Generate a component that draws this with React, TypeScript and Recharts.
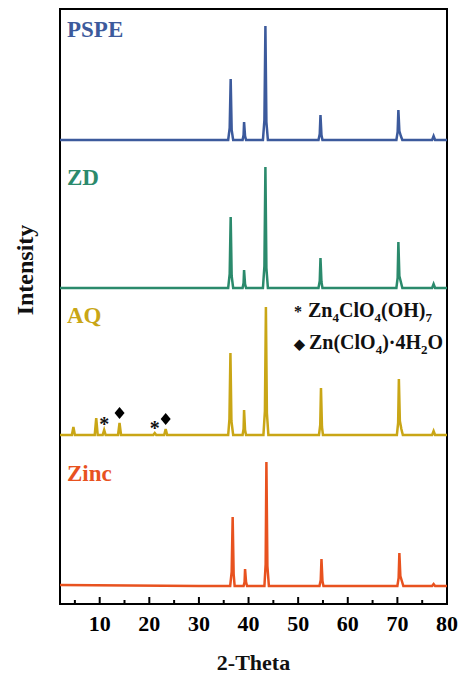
import React from 'react';
import { ComposedChart, Line, Scatter, XAxis, YAxis, ReferenceArea } from 'recharts';

// XRD patterns: [2-theta, intensity above own baseline]
const pspe: [number, number][] = [
  [2, 0], [35.9, 0], [36.2, 12], [36.4, 61], [36.6, 10], [36.9, 0],
  [38.8, 0], [39.0, 5], [39.1, 18], [39.3, 4], [39.5, 0],
  [42.9, 0], [43.2, 20], [43.4, 114], [43.6, 18], [43.9, 0],
  [54.1, 0], [54.35, 6], [54.5, 25], [54.7, 5], [54.9, 0],
  [69.8, 0], [70.05, 8], [70.2, 30], [70.4, 9], [70.7, 4], [71.0, 0],
  [77.0, 0], [77.3, 4], [77.6, 0], [80, 0],
];

const zd: [number, number][] = [
  [2, 0], [35.9, 0], [36.2, 14], [36.4, 71], [36.6, 12], [36.9, 0],
  [38.8, 0], [39.0, 5], [39.1, 18], [39.3, 4], [39.5, 0],
  [42.9, 0], [43.2, 22], [43.4, 121], [43.6, 20], [43.9, 0],
  [54.1, 0], [54.35, 7], [54.5, 30], [54.7, 6], [54.9, 0],
  [69.8, 0], [70.05, 10], [70.2, 46], [70.4, 12], [70.7, 6], [71.0, 0],
  [77.0, 0], [77.3, 4], [77.6, 0], [80, 0],
];

const aq: [number, number][] = [
  [2, 0], [4.4, 0], [4.7, 8], [5.0, 0],
  [9.0, 0], [9.3, 17], [9.6, 0], [10.6, 0], [10.9, 5], [11.2, 0],
  [13.7, 0], [14.0, 12], [14.3, 0], [20.8, 0], [21.1, 2], [21.4, 0],
  [23.0, 0], [23.3, 6], [23.6, 0],
  [35.9, 0], [36.15, 16], [36.35, 82], [36.55, 14], [36.9, 0],
  [38.8, 0], [39.0, 6], [39.1, 25], [39.3, 5], [39.5, 0],
  [43.0, 0], [43.3, 24], [43.5, 128], [43.7, 22], [44.0, 0],
  [54.2, 0], [54.45, 10], [54.6, 47], [54.8, 8], [55.0, 0],
  [69.9, 0], [70.15, 12], [70.3, 56], [70.5, 14], [70.8, 6], [71.1, 0],
  [77.0, 0], [77.3, 4], [77.6, 0], [80, 0],
];

const zinc: [number, number][] = [
  [2, 1], [30, 0], [36.3, 0], [36.6, 14], [36.8, 69], [37.0, 12], [37.2, 0],
  [39.0, 0], [39.2, 4], [39.3, 17], [39.5, 4], [39.7, 0],
  [43.2, 0], [43.45, 22], [43.6, 124], [43.8, 20], [44.1, 0],
  [54.3, 0], [54.55, 6], [54.7, 27], [54.9, 5], [55.1, 0],
  [70.0, 0], [70.25, 8], [70.4, 33], [70.6, 10], [70.9, 5], [71.2, 0],
  [77.0, 0], [77.3, 2], [77.6, 0], [80, 0],
];

// vertical stacking offsets
const offsets = { pspe: 464, zd: 316, aq: 169, zinc: 18 };

// phase markers on AQ pattern
const asterisks = [[10.9, 181], [21.1, 177]];
const diamonds = [[14.0, 191], [23.3, 185]];

const xTicks = [5, 10, 15, 20, 25, 30, 35, 40, 45, 50, 55, 60, 65, 70, 75, 80];

const serif = "'Liberation Serif', 'Times New Roman', serif";

const toRows = (pts: [number, number][], off: number) =>
  pts.map(([x, y]) => ({ x, y: y + off }));

const AxisTick = (props: any) => {
  const { x, y, payload } = props;
  const major = payload.value % 10 === 0;
  return (
    <g>
      <line x1={x} x2={x} y1={y} y2={y - (major ? 7 : 4)} stroke="#000" strokeWidth={2} />
      {major && (
        <text x={x} y={y + 27} textAnchor="middle" fontFamily={serif} fontWeight="bold" fontSize={22} fill="#000">
          {payload.value}
        </text>
      )}
    </g>
  );
};

const Star = (props: any) => (
  <text x={props.cx} y={props.cy + 8} textAnchor="middle" fontFamily={serif} fontWeight="bold" fontSize={20} fill="#111">*</text>
);

const Diamond = (props: any) => {
  const { cx, cy } = props;
  return <path d={`M${cx},${cy - 6} L${cx + 5},${cy} L${cx},${cy + 6} L${cx - 5},${cy} Z`} fill="#000" />;
};

const label = (text: string, color: string, top: number) => (
  <div style={{ position: 'absolute', left: 67, top, color, fontFamily: serif, fontWeight: 'bold', fontSize: 23, lineHeight: 1 }}>
    {text}
  </div>
);

export default function App() {
  return (
    <div style={{ position: 'absolute', left: 0, top: 0, width: 461, height: 677, background: '#fff' }}>
      <ComposedChart width={461} height={677} margin={{ top: 9, right: 14, bottom: 33, left: 60 }}>
        <XAxis
          type="number"
          dataKey="x"
          domain={[2, 80]}
          ticks={xTicks}
          interval={0}
          allowDataOverflow
          tick={<AxisTick />}
          tickLine={false}
          tickSize={0}
          tickMargin={0}
          height={40}
          axisLine={{ stroke: '#000', strokeWidth: 2 }}
        />
        <YAxis type="number" dataKey="y" domain={[0, 595]} hide allowDataOverflow />
        <ReferenceArea x1={2} x2={80} y1={0} y2={595} fill="none" stroke="#000" strokeWidth={2} ifOverflow="visible" />
        <Line data={toRows(zinc, offsets.zinc)} dataKey="y" type="linear" stroke="#e8521f" strokeWidth={2.5} dot={false} isAnimationActive={false} />
        <Line data={toRows(aq, offsets.aq)} dataKey="y" type="linear" stroke="#c9a616" strokeWidth={2.5} dot={false} isAnimationActive={false} />
        <Line data={toRows(zd, offsets.zd)} dataKey="y" type="linear" stroke="#2b8a6c" strokeWidth={2.5} dot={false} isAnimationActive={false} />
        <Line data={toRows(pspe, offsets.pspe)} dataKey="y" type="linear" stroke="#3c5a9c" strokeWidth={2.5} dot={false} isAnimationActive={false} />
        <Scatter data={asterisks.map(([x, y]) => ({ x, y }))} dataKey="y" shape={<Star />} isAnimationActive={false} />
        <Scatter data={diamonds.map(([x, y]) => ({ x, y }))} dataKey="y" shape={<Diamond />} isAnimationActive={false} />
      </ComposedChart>

      {label('PSPE', '#3c5a9c', 18)}
      {label('ZD', '#2b8a6c', 166)}
      {label('AQ', '#c9a616', 304)}
      {label('Zinc', '#e8521f', 462)}

      <div style={{ position: 'absolute', left: 294, top: 298, fontFamily: serif, fontWeight: 'bold', fontSize: 20, lineHeight: '25px', color: '#111' }}>
        <div><span style={{ fontSize: 16, marginRight: 6 }}>*</span>Zn<sub style={{ fontSize: 13 }}>4</sub>ClO<sub style={{ fontSize: 13 }}>4</sub>(OH)<sub style={{ fontSize: 13 }}>7</sub></div>
        <div><span style={{ fontSize: 14, marginRight: 4 }}>◆</span>Zn(ClO<sub style={{ fontSize: 13 }}>4</sub>)·4H<sub style={{ fontSize: 13 }}>2</sub>O</div>
      </div>

      <div style={{ position: 'absolute', left: 0, top: 652, width: 507, textAlign: 'center', fontFamily: serif, fontWeight: 'bold', fontSize: 22, lineHeight: 1, color: '#111' }}>
        2-Theta
      </div>
      <div style={{ position: 'absolute', left: 25, top: 270, transform: 'translate(-50%, -50%) rotate(-90deg)', fontFamily: serif, fontWeight: 'bold', fontSize: 24, lineHeight: 1, color: '#111', whiteSpace: 'nowrap' }}>
        Intensity
      </div>
    </div>
  );
}
